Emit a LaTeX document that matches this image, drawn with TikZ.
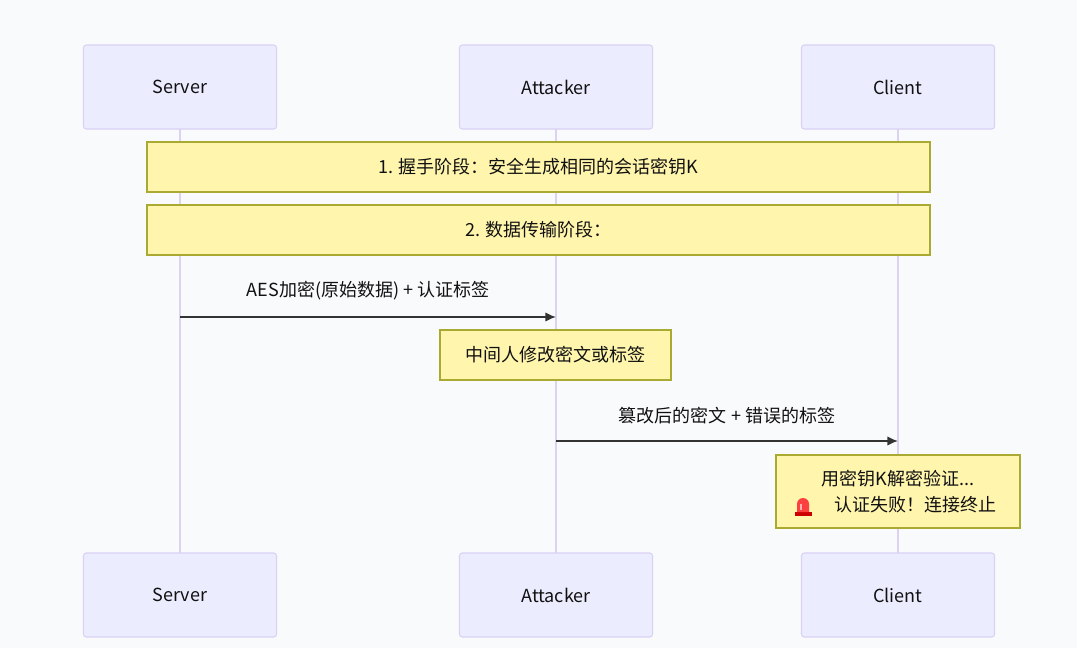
\documentclass[tikz,border=0pt]{standalone}
\usepackage{fontspec}
\usetikzlibrary{arrows.meta}
\setmainfont{Noto Sans CJK SC}
\begin{document}
\begin{tikzpicture}[x=0.75pt,y=-0.75pt,
  actor/.style={draw=actb,fill=actf,rounded corners=2pt,line width=0.8pt},
  note/.style={draw=noteb,fill=notef,line width=0.8pt},
  life/.style={draw=lifec,line width=1.2pt},
  msg/.style={draw=msgc,line width=1.1pt,-{Latex[length=8pt,width=7pt]}},
  txt/.style={font=\fontsize{13.5pt}{16pt}\selectfont,text=txtc,align=center}]
\definecolor{actb}{HTML}{D9D2F4}\definecolor{actf}{HTML}{ECECFF}
\definecolor{noteb}{HTML}{AAAA33}\definecolor{notef}{HTML}{FFF5AD}
\definecolor{lifec}{HTML}{DDD3F0}\definecolor{msgc}{HTML}{333333}
\definecolor{txtc}{HTML}{111111}\definecolor{bg}{HTML}{F9FAFB}
\useasboundingbox (0,0) rectangle (1077,648);
\fill[bg] (0,0) rectangle (1077,648);
\foreach \x/\n in {180/s,556/a,898/c}{\draw[life] (\x,129) -- (\x,553);}
\foreach \x/\n/\t in {180/s/Server,556/a/Attacker,898/c/Client}{
  \node[actor,minimum width=193*0.75pt,minimum height=84*0.75pt,txt] (\n top) at (\x,87) {\t};
  \node[actor,minimum width=193*0.75pt,minimum height=84*0.75pt,txt] (\n bot) at (\x,595) {\t};}
\node[note,minimum width=783*0.75pt,minimum height=50*0.75pt,txt] (n1) at (538.5,167) {1. 握手阶段：安全生成相同的会话密钥K};
\node[note,minimum width=783*0.75pt,minimum height=50*0.75pt,txt] (n2) at (538.5,230) {2. 数据传输阶段：};
\coordinate (m1s) at (180,317); \coordinate (m1e) at (556,317);
\draw[msg] (m1s) -- (m1e) node[midway,above=9pt,txt] {AES加密(原始数据) + 认证标签};
\node[note,minimum width=231*0.75pt,minimum height=50*0.75pt,txt] (n3) at (555.5,355) {中间人修改密文或标签};
\coordinate (m2s) at (556,441); \coordinate (m2e) at (898,441);
\draw[msg] (m2s) -- (m2e) node[midway,above=9pt,txt] {篡改后的密文 + 错误的标签};
\node[note,minimum width=244*0.75pt,minimum height=73*0.75pt] (n4) at (898,491.5) {};
\node[txt] (n4a) at (898,479) {用密钥K解密验证...};
\node[txt] (n4b) at (915,505) {认证失败！连接终止};
\fill[red!80!black] (795,512) rectangle (812,516);
\fill[red!75] (797,512) -- (797,504) arc (180:360:6) -- (809,512) -- cycle;
\fill[white,opacity=.6] (800,504) rectangle (801.5,510);
\end{tikzpicture}
\end{document}
